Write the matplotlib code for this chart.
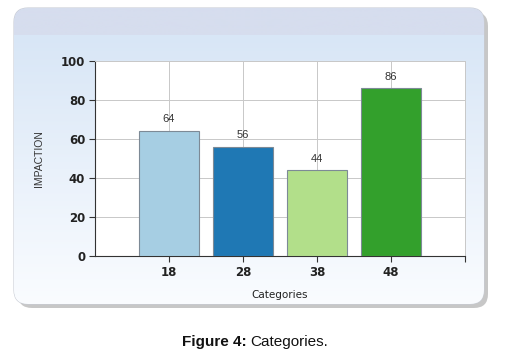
import numpy as np
import matplotlib
matplotlib.use("Agg")
import matplotlib.pyplot as plt
from matplotlib.patches import FancyBboxPatch

categories = ["18", "28", "38", "48"]
values = [64, 56, 44, 86]
bar_colors = ["#a6cee3", "#1f78b4", "#b2df8a", "#33a02c"]
y_ticks = [0, 20, 40, 60, 80, 100]

W, H = 510, 353
fig = plt.figure(figsize=(W / 100, H / 100), dpi=100)

# --- background panel (pixel coordinates) ---
bg = fig.add_axes([0, 0, 1, 1])
bg.set_xlim(0, W)
bg.set_ylim(H, 0)
bg.axis("off")

shadow = FancyBboxPatch((18, 12), 470, 296, boxstyle="round,pad=0,rounding_size=14",
                        fc="#9a9a9a", ec="none", alpha=0.55)
bg.add_patch(shadow)
panel = FancyBboxPatch((14, 8), 470, 296, boxstyle="round,pad=0,rounding_size=14",
                       fc="none", ec="#c8ccd4", lw=0.8)
bg.add_patch(panel)

# vertical gradient inside the panel
top = np.array([0xd6, 0xdd, 0xee]) / 255
band = np.array([0xd8, 0xe6, 0xf6]) / 255
bottom = np.array([0xfa, 0xfc, 0xff]) / 255
rows = np.arange(8, 305)
grad = np.zeros((len(rows), 1, 3))
for i, r in enumerate(rows):
    if r < 35:
        grad[i, 0] = top
    else:
        t = (r - 35) / (304 - 35)
        grad[i, 0] = band * (1 - t) + bottom * t
img = bg.imshow(grad, extent=(14, 484, 304, 8), aspect="auto", zorder=1)
img.set_clip_path(panel)

# --- chart ---
ax = fig.add_axes([95 / W, 1 - 256 / H, 370 / W, 195 / H])
ax.set_facecolor("white")
x = np.arange(1, len(categories) + 1)
bars = ax.bar(x, values, width=0.81, color=bar_colors, edgecolor="#7d8a96",
              linewidth=0.8, zorder=3)
for xi, v in zip(x, values):
    ax.text(xi, v + 6, str(v), ha="center", va="center", fontsize=8,
            family="Liberation Sans", color="#333333", zorder=4)

ax.set_xlim(0, 5)
ax.set_ylim(0, 100)
ax.set_xticks(list(x) + [5])
ax.set_xticklabels(categories + [""], fontsize=8.5, fontweight="bold", color="#222222")
ax.set_yticks(y_ticks)
ax.set_yticklabels([str(t) for t in y_ticks], fontsize=8.5, fontweight="bold", color="#222222")
ax.tick_params(axis="both", length=4, width=0.8, color="#333333", pad=3)
ax.grid(True, color="#c8c8c8", linewidth=0.7, zorder=0)
ax.set_axisbelow(True)

for side in ["top", "right"]:
    ax.spines[side].set_color("#c8c8c8")
    ax.spines[side].set_linewidth(0.7)
for side in ["left", "bottom"]:
    ax.spines[side].set_color("#333333")
    ax.spines[side].set_linewidth(0.8)

ax.set_xlabel("Categories", fontsize=7.5, color="#222222", labelpad=8)
ax.set_ylabel("IMPACTION", fontsize=7.5, family="Liberation Sans", color="#333333",
              labelpad=12)

# caption
fig.text(247 / W, 1 - 342 / H, "Figure 4:", ha="right", va="center", fontsize=11,
         family="Liberation Sans", fontweight="bold", color="#111111")
fig.text(250 / W, 1 - 342 / H, "Categories.", ha="left", va="center", fontsize=11,
         family="Liberation Sans", color="#111111")

fig.savefig("out.png", dpi=100)
